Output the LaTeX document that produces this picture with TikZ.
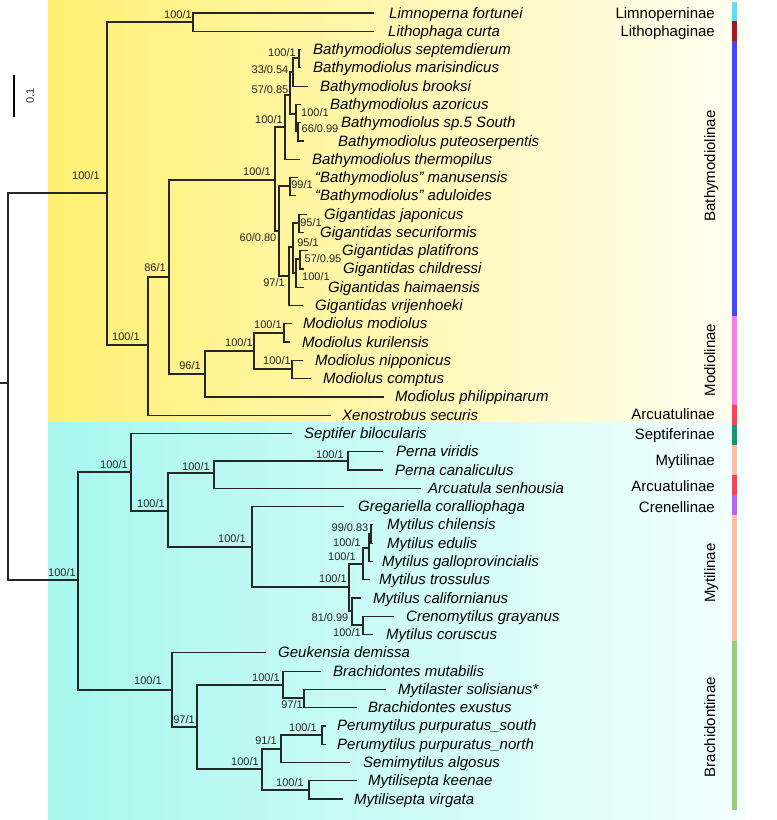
\documentclass[tikz,border=0pt]{standalone}
\usepackage{fontspec}
\setmainfont{Liberation Sans}
\usetikzlibrary{positioning}

\definecolor{yelo}{RGB}{255,240,115}
\definecolor{yeloend}{RGB}{255,254,242}
\definecolor{cyan1}{RGB}{166,247,238}
\definecolor{cyanend}{RGB}{243,255,255}
\definecolor{cLimno}{RGB}{90,222,245}
\definecolor{cLitho}{RGB}{176,20,30}
\definecolor{cBathy}{RGB}{70,70,255}
\definecolor{cModio}{RGB}{255,120,240}
\definecolor{cArcua}{RGB}{255,64,85}
\definecolor{cSepti}{RGB}{18,154,112}
\definecolor{cMytil}{RGB}{255,190,160}
\definecolor{cCrene}{RGB}{180,102,255}
\definecolor{cBrach}{RGB}{153,204,122}

\begin{document}
\begin{tikzpicture}[x=1pt,y=-1pt]
  \tikzstyle{twig}=[line width=1.2pt, draw=black!85, line cap=rect]
  \tikzstyle{taxon}=[anchor=base west, inner sep=0pt, yshift=-5pt, font=\fontsize{15}{15}\selectfont\itshape]
  \tikzstyle{supp}=[inner sep=0pt, text=black!85, font=\fontsize{11}{11}\selectfont]
  \tikzstyle{clade}=[inner sep=0pt, font=\fontsize{15}{15}\selectfont]
  \useasboundingbox (0,0) rectangle (777,820);

  % backgrounds
  \shade[left color=yelo, right color=yeloend] (48,0) rectangle (745,422);
  \shade[left color=cyan1, right color=cyanend] (48,422) rectangle (745,819);

  % scale bar
  \coordinate (sbtop) at (14,75);
  \coordinate (sbbot) at (14,117);
  \draw[line width=1.2pt] (sbtop) -- (sbbot);
  \node[supp, rotate=90] (sblab) at (30,96) {0.1};

  % tips: branch end, then name
  \path (373,13.0)  coordinate (tLim)  (389,13.0)  node[taxon] (Lim)  {Limnoperna fortunei};
  \path (373,31.3)  coordinate (tLit)  (388,31.3)  node[taxon] (Lit)  {Lithophaga curta};
  \path (300,49.6)  coordinate (tBsep) (313,49.6)  node[taxon] (Bsep) {Bathymodiolus septemdierum};
  \path (300,67.8)  coordinate (tBmar) (313,67.8)  node[taxon] (Bmar) {Bathymodiolus marisindicus};
  \path (307,86.1)  coordinate (tBbro) (320,86.1)  node[taxon] (Bbro) {Bathymodiolus brooksi};
  \path (300,104.4) coordinate (tBazo) (330,104.4) node[taxon] (Bazo) {Bathymodiolus azoricus};
  \path (300,122.7) coordinate (tBsp)  (341,122.7) node[taxon] (Bsp)  {Bathymodiolus sp.5 South};
  \path (303,141.0) coordinate (tBput) (338,141.0) node[taxon] (Bput) {Bathymodiolus puteoserpentis};
  \path (299,159.2) coordinate (tBthe) (312,159.2) node[taxon] (Bthe) {Bathymodiolus thermopilus};
  \path (297,177.5) coordinate (tBman) (315,177.5) node[taxon] (Bman) {“Bathymodiolus” manusensis};
  \path (295,195.8) coordinate (tBadu) (315,195.8) node[taxon] (Badu) {“Bathymodiolus” aduloides};
  \path (306,214.1) coordinate (tGjap) (324,214.1) node[taxon] (Gjap) {Gigantidas japonicus};
  \path (303,232.4) coordinate (tGsec) (320,232.4) node[taxon] (Gsec) {Gigantidas securiformis};
  \path (307,250.6) coordinate (tGpla) (342,250.6) node[taxon] (Gpla) {Gigantidas platifrons};
  \path (303,268.9) coordinate (tGchi) (343,268.9) node[taxon] (Gchi) {Gigantidas childressi};
  \path (303,287.2) coordinate (tGhai) (328,287.2) node[taxon] (Ghai) {Gigantidas haimaensis};
  \path (302,305.5) coordinate (tGvri) (315,305.5) node[taxon] (Gvri) {Gigantidas vrijenhoeki};
  \path (291,323.8) coordinate (tMmod) (303,323.8) node[taxon] (Mmod) {Modiolus modiolus};
  \path (289,342.0) coordinate (tMkur) (302,342.0) node[taxon] (Mkur) {Modiolus kurilensis};
  \path (302,360.3) coordinate (tMnip) (315,360.3) node[taxon] (Mnip) {Modiolus nipponicus};
  \path (310,378.6) coordinate (tMcom) (323,378.6) node[taxon] (Mcom) {Modiolus comptus};
  \path (383,396.9) coordinate (tMphi) (395,396.9) node[taxon] (Mphi) {Modiolus philippinarum};
  \path (330,415.2) coordinate (tXsec) (342,415.2) node[taxon] (Xsec) {Xenostrobus securis};
  \path (291,433.4) coordinate (tSbil) (304,433.4) node[taxon] (Sbil) {Septifer bilocularis};
  \path (382,451.7) coordinate (tPvir) (396,451.7) node[taxon] (Pvir) {Perna viridis};
  \path (382,470.0) coordinate (tPcan) (395,470.0) node[taxon] (Pcan) {Perna canaliculus};
  \path (420,488.3) coordinate (tAsen) (428,488.3) node[taxon] (Asen) {Arcuatula senhousia};
  \path (343,506.6) coordinate (tGcor) (358,506.6) node[taxon] (Gcor) {Gregariella coralliophaga};
  \path (372,524.8) coordinate (tMchi) (387,524.8) node[taxon] (Mchi) {Mytilus chilensis};
  \path (372,543.1) coordinate (tMedu) (387,543.1) node[taxon] (Medu) {Mytilus edulis};
  \path (372,561.4) coordinate (tMgal) (382,561.4) node[taxon] (Mgal) {Mytilus galloprovincialis};
  \path (369,579.7) coordinate (tMtro) (379,579.7) node[taxon] (Mtro) {Mytilus trossulus};
  \path (360,598.0) coordinate (tMcal) (373,598.0) node[taxon] (Mcal) {Mytilus californianus};
  \path (393,616.2) coordinate (tCgra) (406,616.2) node[taxon] (Cgra) {Crenomytilus grayanus};
  \path (372,634.5) coordinate (tMcor) (386,634.5) node[taxon] (Mcor) {Mytilus coruscus};
  \path (265,652.8) coordinate (tGdem) (278,652.8) node[taxon] (Gdem) {Geukensia demissa};
  \path (320,671.1) coordinate (tBmut) (333,671.1) node[taxon] (Bmut) {Brachidontes mutabilis};
  \path (385,689.4) coordinate (tMsol) (398,689.4) node[taxon] (Msol) {Mytilaster solisianus*};
  \path (356,707.6) coordinate (tBexu) (368,707.6) node[taxon] (Bexu) {Brachidontes exustus};
  \path (325,725.9) coordinate (tPpus) (337,725.9) node[taxon] (Ppus) {Perumytilus purpuratus\_south};
  \path (325,744.2) coordinate (tPpun) (337,744.2) node[taxon] (Ppun) {Perumytilus purpuratus\_north};
  \path (349,762.5) coordinate (tSalg) (363,762.5) node[taxon] (Salg) {Semimytilus algosus};
  \path (356,780.8) coordinate (tMkee) (368,780.8) node[taxon] (Mkee) {Mytilisepta keenae};
  \path (342,799.0) coordinate (tMvir) (354,799.0) node[taxon] (Mvir) {Mytilisepta virgata};

  % internal nodes
  \coordinate (stub) at (0,383);
  \coordinate (root) at (8,383);
  \coordinate (nA)   at (107,193);
  \coordinate (nLL)  at (193,22);
  \coordinate (nC)   at (148,345);
  \coordinate (nD)   at (169,277);
  \coordinate (nE)   at (275,180);
  \coordinate (nF)   at (285,127);
  \coordinate (nF1)  at (290,95);
  \coordinate (nF2)  at (293,72);
  \coordinate (nF4)  at (299,58);
  \coordinate (nF3)  at (296,114);
  \coordinate (nF5)  at (298,131);
  \coordinate (nG)   at (279,231);
  \coordinate (nH)   at (290,186);
  \coordinate (nI)   at (289,276);
  \coordinate (nJ)   at (293,247);
  \coordinate (nK)   at (299,223);
  \coordinate (nL)   at (296,273);
  \coordinate (nM57) at (300,259);
  \coordinate (nM)   at (205,374);
  \coordinate (nN)   at (254,351);
  \coordinate (nO)   at (284,333);
  \coordinate (nP)   at (292,369);
  \coordinate (nB)   at (78,580);
  \coordinate (nQ)   at (131,472);
  \coordinate (nR)   at (168,511);
  \coordinate (nS)   at (214,473);
  \coordinate (nPe)  at (348,461);
  \coordinate (nU)   at (252,547);
  \coordinate (nV)   at (349,587);
  \coordinate (nW)   at (363,564);
  \coordinate (nY)   at (369,548);
  \coordinate (nZ)   at (371,534);
  \coordinate (nX)   at (352,611);
  \coordinate (nAA)  at (363,625);
  \coordinate (nBB)  at (172,690);
  \coordinate (nCC)  at (197,727);
  \coordinate (nDD)  at (283,685);
  \coordinate (nEE)  at (304,698);
  \coordinate (nFF)  at (262,769);
  \coordinate (nGG)  at (281,749);
  \coordinate (nHH)  at (322,735);
  \coordinate (nII)  at (309,790);

  % branches
  \draw[twig] (stub) -- (root);
  \draw[twig] (root) |- (nA);
  \draw[twig] (root) |- (nB);
  \draw[twig] (nA) |- (nLL);
  \draw[twig] (nA) |- (nC);
  \draw[twig] (nLL) |- (tLim);
  \draw[twig] (nLL) |- (tLit);
  \draw[twig] (nC) |- (nD);
  \draw[twig] (nC) |- (tXsec);
  \draw[twig] (nD) |- (nE);
  \draw[twig] (nD) |- (nM);
  \draw[twig] (nE) |- (nF);
  \draw[twig] (nE) |- (nG);
  \draw[twig] (nF) |- (nF1);
  \draw[twig] (nF) |- (tBthe);
  \draw[twig] (nF1) |- (nF2);
  \draw[twig] (nF1) |- (nF3);
  \draw[twig] (nF2) |- (nF4);
  \draw[twig] (nF2) |- (tBbro);
  \draw[twig] (nF4) |- (tBsep);
  \draw[twig] (nF4) |- (tBmar);
  \draw[twig] (nF3) |- (tBazo);
  \draw[twig] (nF3) |- (nF5);
  \draw[twig] (nF5) |- (tBsp);
  \draw[twig] (nF5) |- (tBput);
  \draw[twig] (nG) |- (nH);
  \draw[twig] (nG) |- (nI);
  \draw[twig] (nH) |- (tBman);
  \draw[twig] (nH) |- (tBadu);
  \draw[twig] (nI) |- (nJ);
  \draw[twig] (nI) |- (tGvri);
  \draw[twig] (nJ) |- (nK);
  \draw[twig] (nJ) |- (nL);
  \draw[twig] (nK) |- (tGjap);
  \draw[twig] (nK) |- (tGsec);
  \draw[twig] (nL) |- (nM57);
  \draw[twig] (nL) |- (tGhai);
  \draw[twig] (nM57) |- (tGpla);
  \draw[twig] (nM57) |- (tGchi);
  \draw[twig] (nM) |- (nN);
  \draw[twig] (nM) |- (tMphi);
  \draw[twig] (nN) |- (nO);
  \draw[twig] (nN) |- (nP);
  \draw[twig] (nO) |- (tMmod);
  \draw[twig] (nO) |- (tMkur);
  \draw[twig] (nP) |- (tMnip);
  \draw[twig] (nP) |- (tMcom);
  \draw[twig] (nB) |- (nQ);
  \draw[twig] (nB) |- (nBB);
  \draw[twig] (nQ) |- (tSbil);
  \draw[twig] (nQ) |- (nR);
  \draw[twig] (nR) |- (nS);
  \draw[twig] (nR) |- (nU);
  \draw[twig] (nS) |- (nPe);
  \draw[twig] (nS) |- (tAsen);
  \draw[twig] (nPe) |- (tPvir);
  \draw[twig] (nPe) |- (tPcan);
  \draw[twig] (nU) |- (tGcor);
  \draw[twig] (nU) |- (nV);
  \draw[twig] (nV) |- (nW);
  \draw[twig] (nV) |- (nX);
  \draw[twig] (nW) |- (nY);
  \draw[twig] (nW) |- (tMtro);
  \draw[twig] (nY) |- (nZ);
  \draw[twig] (nY) |- (tMgal);
  \draw[twig] (nZ) |- (tMchi);
  \draw[twig] (nZ) |- (tMedu);
  \draw[twig] (nX) |- (tMcal);
  \draw[twig] (nX) |- (nAA);
  \draw[twig] (nAA) |- (tCgra);
  \draw[twig] (nAA) |- (tMcor);
  \draw[twig] (nBB) |- (tGdem);
  \draw[twig] (nBB) |- (nCC);
  \draw[twig] (nCC) |- (nDD);
  \draw[twig] (nCC) |- (nFF);
  \draw[twig] (nDD) |- (tBmut);
  \draw[twig] (nDD) |- (nEE);
  \draw[twig] (nEE) |- (tMsol);
  \draw[twig] (nEE) |- (tBexu);
  \draw[twig] (nFF) |- (nGG);
  \draw[twig] (nFF) |- (nII);
  \draw[twig] (nGG) |- (nHH);
  \draw[twig] (nGG) |- (tSalg);
  \draw[twig] (nHH) |- (tPpus);
  \draw[twig] (nHH) |- (tPpun);
  \draw[twig] (nII) |- (tMkee);
  \draw[twig] (nII) |- (tMvir);

  % support values
  \node[supp] (lA)   at (86,176)  {100/1};
  \node[supp] (lLL)  at (178,15)  {100/1};
  \node[supp] (lC)   at (126,337) {100/1};
  \node[supp] (lD)   at (155,268) {86/1};
  \node[supp] (lE)   at (257,172) {100/1};
  \node[supp] (lF)   at (269,120) {100/1};
  \node[supp] (lF1)  at (270,90)  {57/0.85};
  \node[supp] (lF2)  at (270,70)  {33/0.54};
  \node[supp] (lF4)  at (282,53)  {100/1};
  \node[supp] (lF3)  at (315,113) {100/1};
  \node[supp] (lF5)  at (320,129) {66/0.99};
  \node[supp] (lG)   at (258,238) {60/0.80};
  \node[supp] (lH)   at (302,185) {99/1};
  \node[supp] (lI)   at (274,283) {97/1};
  \node[supp] (lJ)   at (308,243) {95/1};
  \node[supp] (lK)   at (311,223) {95/1};
  \node[supp] (lL)   at (316,277) {100/1};
  \node[supp] (lM57) at (323,259) {57/0.95};
  \node[supp] (lM)   at (190,366) {96/1};
  \node[supp] (lN)   at (239,343) {100/1};
  \node[supp] (lO)   at (268,325) {100/1};
  \node[supp] (lP)   at (277,361) {100/1};
  \node[supp] (lB)   at (62,573)  {100/1};
  \node[supp] (lQ)   at (114,465) {100/1};
  \node[supp] (lR)   at (151,504) {100/1};
  \node[supp] (lS)   at (196,467) {100/1};
  \node[supp] (lPe)  at (330,455) {100/1};
  \node[supp] (lU)   at (232,539) {100/1};
  \node[supp] (lV)   at (333,579) {100/1};
  \node[supp] (lW)   at (342,557) {100/1};
  \node[supp] (lY)   at (347,543) {100/1};
  \node[supp] (lZ)   at (350,528) {99/0.83};
  \node[supp] (lX)   at (330,618) {81/0.99};
  \node[supp] (lAA)  at (347,633) {100/1};
  \node[supp] (lBB)  at (148,681) {100/1};
  \node[supp] (lCC)  at (184,720) {97/1};
  \node[supp] (lDD)  at (266,678) {100/1};
  \node[supp] (lEE)  at (292,705) {97/1};
  \node[supp] (lFF)  at (245,762) {100/1};
  \node[supp] (lGG)  at (266,741) {91/1};
  \node[supp] (lHH)  at (303,728) {100/1};
  \node[supp] (lII)  at (290,783) {100/1};

  % subfamily bars
  \fill[cLimno] (732,2)   rectangle (737,21);
  \fill[cLitho] (732,21)  rectangle (737,41);
  \fill[cBathy] (732,41)  rectangle (737,316);
  \fill[cModio] (732,316) rectangle (737,405);
  \fill[cArcua] (732,405) rectangle (737,425);
  \fill[cSepti] (732,425) rectangle (737,445);
  \fill[cMytil] (732,445) rectangle (737,475);
  \fill[cArcua] (732,475) rectangle (737,495);
  \fill[cCrene] (732,495) rectangle (737,515);
  \fill[cMytil] (732,515) rectangle (737,641);
  \fill[cBrach] (732,641) rectangle (737,810);

  % subfamily names
  \node[clade, anchor=base east] (cLim)  at (715,18)  {Limnoperninae};
  \node[clade, anchor=base east] (cLit)  at (715,36)  {Lithophaginae};
  \node[clade, anchor=base, rotate=90] (cBat) at (715,166) {Bathymodiolinae};
  \node[clade, anchor=base, rotate=90] (cMod) at (715,360) {Modiolinae};
  \node[clade, anchor=base east] (cArc1) at (715,419) {Arcuatulinae};
  \node[clade, anchor=base east] (cSep)  at (715,439) {Septiferinae};
  \node[clade, anchor=base east] (cMyt1) at (715,465) {Mytilinae};
  \node[clade, anchor=base east] (cArc2) at (715,491) {Arcuatulinae};
  \node[clade, anchor=base east] (cCre)  at (715,512) {Crenellinae};
  \node[clade, anchor=base, rotate=90] (cMyt2) at (715,573) {Mytilinae};
  \node[clade, anchor=base, rotate=90] (cBra)  at (715,727) {Brachidontinae};
\end{tikzpicture}
\end{document}
